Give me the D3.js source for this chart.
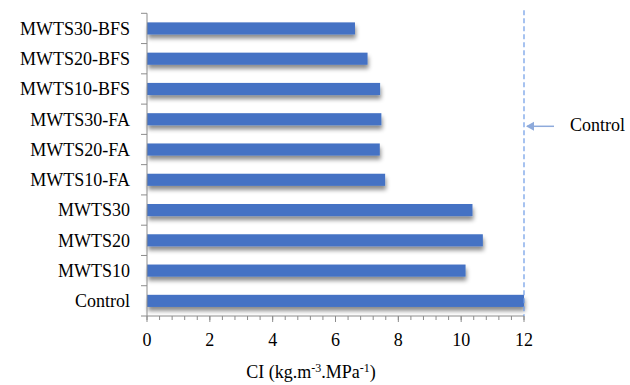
<!DOCTYPE html>
<html>
<head>
<meta charset="utf-8">
<script src="https://cdn.jsdelivr.net/npm/d3@7"></script>
<style>
  body { margin: 0; background: #fff; }
</style>
</head>
<body>
<div id="chart"></div>
<script>
var categories = ["MWTS30-BFS", "MWTS20-BFS", "MWTS10-BFS", "MWTS30-FA", "MWTS20-FA",
                  "MWTS10-FA", "MWTS30", "MWTS20", "MWTS10", "Control"];
var values = [6.62, 7.02, 7.42, 7.46, 7.41, 7.58, 10.36, 10.69, 10.14, 12.0];
var xTicks = [0, 2, 4, 6, 8, 10, 12];
var controlValue = 12;

var width = 630, height = 385;
var margin = {top: 13.3, left: 147, plotW: 377, plotH: 302.7};
var serif = "'Liberation Serif', 'Times New Roman', 'DejaVu Serif', serif";

var svg = d3.select("#chart").append("svg")
    .attr("width", width)
    .attr("height", height)
    .attr("font-family", serif)
    .style("font-family", serif);

var defs = svg.append("defs");
var f = defs.append("filter").attr("id", "shadow")
    .attr("x", "-5%").attr("y", "-50%").attr("width", "110%").attr("height", "250%");
f.append("feDropShadow")
    .attr("dx", 1).attr("dy", 4).attr("stdDeviation", 2)
    .attr("flood-color", "#000").attr("flood-opacity", 0.45);

var x = d3.scaleLinear().domain([0, 12]).range([0, margin.plotW]);
var y = d3.scaleBand().domain(categories).range([0, margin.plotH]).paddingInner(0.6).paddingOuter(0.3);
var yB = d3.scaleBand().domain(categories).range([0, margin.plotH]);

var g = svg.append("g")
    .attr("transform", "translate(" + margin.left + "," + margin.top + ")");

// bars
g.selectAll(".bar")
    .data(categories)
    .enter().append("rect")
    .attr("class", "bar")
    .attr("x", 0)
    .attr("y", function(d) { return y(d); })
    .attr("width", function(d, i) { return x(values[i]); })
    .attr("height", y.bandwidth())
    .attr("fill", "#4472C4")
    .attr("filter", "url(#shadow)");

// y axis line + ticks at band edges
g.append("line")
    .attr("x1", 0).attr("x2", 0)
    .attr("y1", 0).attr("y2", margin.plotH)
    .attr("stroke", "#8c8c8c").attr("stroke-width", 1);
var edges = categories.map(function(d) { return yB(d); }).concat([margin.plotH]);
g.selectAll(".ytick")
    .data(edges)
    .enter().append("line")
    .attr("x1", -6).attr("x2", 0)
    .attr("y1", function(d) { return d; })
    .attr("y2", function(d) { return d; })
    .attr("stroke", "#8c8c8c");

g.selectAll(".ylab")
    .data(categories)
    .enter().append("text")
    .attr("x", -17)
    .attr("y", function(d) { return yB(d) + yB.bandwidth() / 2; })
    .attr("dy", "0.35em")
    .attr("text-anchor", "end")
    .style("font-size", "18px")
    .text(function(d) { return d; });

// x axis
g.append("line")
    .attr("x1", 0).attr("x2", margin.plotW)
    .attr("y1", margin.plotH).attr("y2", margin.plotH)
    .attr("stroke", "#8c8c8c");
var minor = d3.range(0, 12.001, 0.4);
g.selectAll(".xminor")
    .data(minor)
    .enter().append("line")
    .attr("x1", function(d) { return x(d); })
    .attr("x2", function(d) { return x(d); })
    .attr("y1", margin.plotH)
    .attr("y2", margin.plotH + 4)
    .attr("stroke", "#8c8c8c");
g.selectAll(".xmajor")
    .data(xTicks)
    .enter().append("line")
    .attr("x1", function(d) { return x(d); })
    .attr("x2", function(d) { return x(d); })
    .attr("y1", margin.plotH)
    .attr("y2", margin.plotH + 6)
    .attr("stroke", "#8c8c8c");
g.selectAll(".xlab")
    .data(xTicks)
    .enter().append("text")
    .attr("x", function(d) { return x(d); })
    .attr("y", margin.plotH + 30)
    .attr("text-anchor", "middle")
    .style("font-size", "18px")
    .text(function(d) { return d; });

// axis title
var title = svg.append("text")
    .attr("x", 311)
    .attr("y", 378)
    .attr("text-anchor", "middle")
    .style("font-size", "18px");
title.append("tspan").text("CI (kg.m");
title.append("tspan").attr("dy", -6).style("font-size", "12px").text("-3");
title.append("tspan").attr("dy", 6).text(".MPa");
title.append("tspan").attr("dy", -6).style("font-size", "12px").text("-1");
title.append("tspan").attr("dy", 6).text(")");

// control dashed line
g.append("line")
    .attr("x1", x(controlValue)).attr("x2", x(controlValue))
    .attr("y1", -3).attr("y2", margin.plotH)
    .attr("stroke", "#6d9be6")
    .attr("stroke-width", 1.2)
    .attr("stroke-dasharray", "5,3");

// arrow + label
var ay = 113;
g.append("line")
    .attr("x1", x(controlValue) + 3).attr("x2", x(controlValue) + 30)
    .attr("y1", ay).attr("y2", ay)
    .attr("stroke", "#8eaadb").attr("stroke-width", 1.5);
g.append("path")
    .attr("d", "M" + (x(controlValue) + 2) + "," + ay + " l8,-4.5 l0,9 z")
    .attr("fill", "#8eaadb");
g.append("text")
    .attr("x", x(controlValue) + 46)
    .attr("y", ay - 2)
    .attr("dy", "0.35em")
    .style("font-size", "18px")
    .text("Control");
</script>
</body>
</html>
